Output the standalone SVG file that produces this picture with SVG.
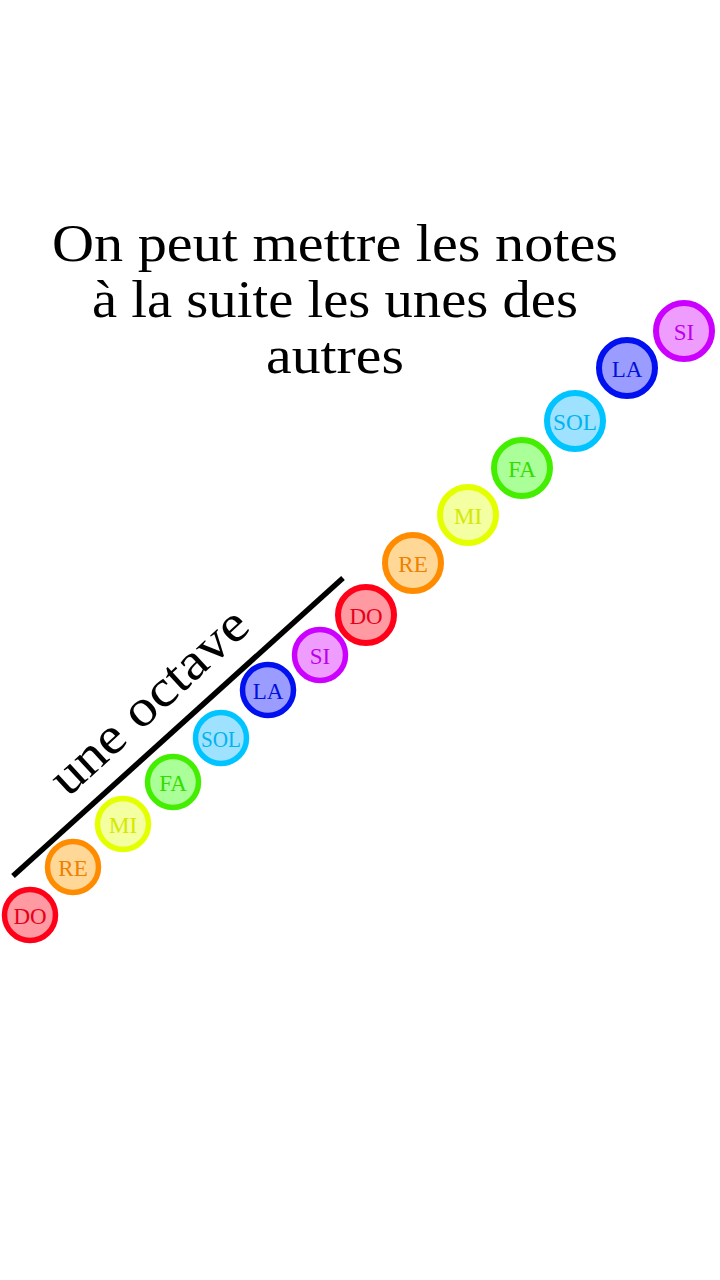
<svg xmlns="http://www.w3.org/2000/svg" width="720" height="1280" viewBox="0 0 720 1280">
<style>
.title{font-family:"Liberation Serif",serif;font-size:53px;fill:#000;text-anchor:middle}
.oct{font-family:"Liberation Serif",serif;font-size:52px;fill:#000}
.lbl{font-family:"Liberation Serif",serif;font-size:23px;text-anchor:middle;dominant-baseline:central}
.do circle{fill:#ff9aa2;stroke:#ff0018}.do text{fill:#e8001a}
.re circle{fill:#ffd898;stroke:#ff8c00}.re text{fill:#f08000}
.mi circle{fill:#f3ffa0;stroke:#e4ff00}.mi text{fill:#d4e800}
.fa circle{fill:#aaff99;stroke:#44ee00}.fa text{fill:#33dd00}
.sol circle{fill:#9fe2ff;stroke:#00c4ff}.sol text{fill:#00b4f0}
.la circle{fill:#9a9cff;stroke:#0010ee}.la text{fill:#0010dd}
.si circle{fill:#ee9dff;stroke:#cc00ff}.si text{fill:#bb00ee}
.s circle{stroke-width:5.5}
.b circle{stroke-width:6}
</style>
<rect width="720" height="1280" fill="#fff"/>
<g id="title">
<text class="title" x="335" y="261" textLength="566" lengthAdjust="spacingAndGlyphs">On peut mettre les notes</text>
<text class="title" x="335" y="317" textLength="486" lengthAdjust="spacingAndGlyphs">à la suite les unes des</text>
<text class="title" x="335" y="373" textLength="138" lengthAdjust="spacingAndGlyphs">autres</text>
</g>
<g id="connectors">
<line x1="13" y1="876" x2="343" y2="578" stroke="#000" stroke-width="5.5"/>
</g>
<g id="octave-label">
<text class="oct" transform="translate(68,798) rotate(-42.5)" textLength="250" lengthAdjust="spacingAndGlyphs">une octave</text>
</g>
<g id="do1" class="do s"><circle cx="30" cy="915" r="25.5"/><text class="lbl" x="30" y="916">DO</text></g>
<g id="re1" class="re s"><circle cx="73" cy="867" r="25.5"/><text class="lbl" x="73" y="868">RE</text></g>
<g id="mi1" class="mi s"><circle cx="123" cy="824" r="25.5"/><text class="lbl" x="123" y="825">MI</text></g>
<g id="fa1" class="fa s"><circle cx="173" cy="782" r="25.5"/><text class="lbl" x="173" y="783">FA</text></g>
<g id="sol1" class="sol s"><circle cx="221" cy="738" r="25.5"/><text class="lbl" x="221" y="739" textLength="40" lengthAdjust="spacingAndGlyphs">SOL</text></g>
<g id="la1" class="la s"><circle cx="268" cy="690" r="25.5"/><text class="lbl" x="268" y="691">LA</text></g>
<g id="si1" class="si s"><circle cx="320" cy="655" r="25.5"/><text class="lbl" x="320" y="656">SI</text></g>
<g id="do2" class="do b"><circle cx="366" cy="615" r="28"/><text class="lbl" x="366" y="616">DO</text></g>
<g id="re2" class="re b"><circle cx="413" cy="563" r="28"/><text class="lbl" x="413" y="564">RE</text></g>
<g id="mi2" class="mi b"><circle cx="468" cy="515" r="28"/><text class="lbl" x="468" y="516">MI</text></g>
<g id="fa2" class="fa b"><circle cx="522" cy="468" r="28"/><text class="lbl" x="522" y="469">FA</text></g>
<g id="sol2" class="sol b"><circle cx="575" cy="421" r="28"/><text class="lbl" x="575" y="422" textLength="44" lengthAdjust="spacingAndGlyphs">SOL</text></g>
<g id="la2" class="la b"><circle cx="627" cy="368" r="28"/><text class="lbl" x="627" y="369">LA</text></g>
<g id="si2" class="si b"><circle cx="684" cy="331" r="28"/><text class="lbl" x="684" y="332">SI</text></g>
</svg>
